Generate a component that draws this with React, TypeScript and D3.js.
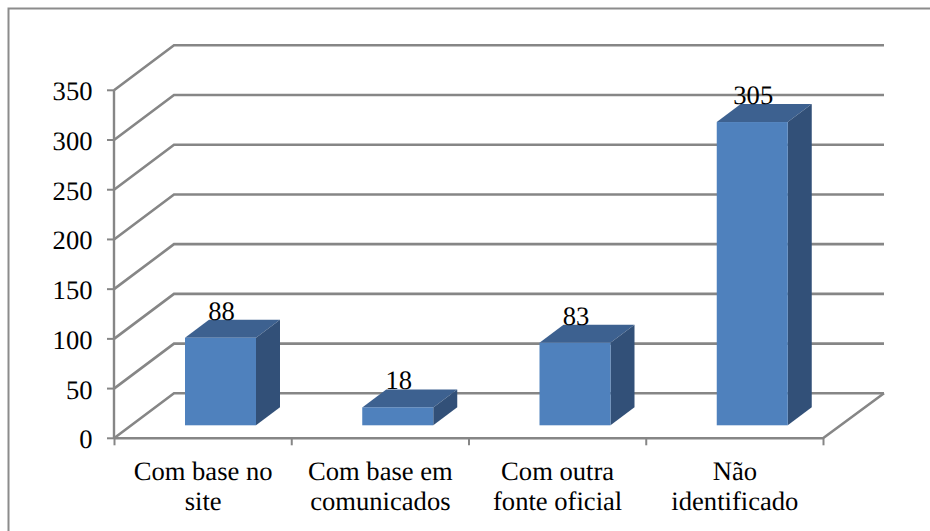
import React from 'react';
import * as d3 from 'd3';

const categories = [
  ['Com base no', 'site'],
  ['Com base em', 'comunicados'],
  ['Com outra', 'fonte oficial'],
  ['Não', 'identificado'],
];
const values = [88, 18, 83, 305];
const yTicks = [0, 50, 100, 150, 200, 250, 300, 350];

const DEPTH_X = 60;
const DEPTH_Y = 45;
const BAR_DX = 24;
const BAR_DY = 18;
const GRID = '#868686';
const FONT = '"Liberation Serif", "Times New Roman", serif';
const FONT_SIZE = 26.6;

const x = d3.scaleBand<number>().domain([0, 1, 2, 3]).range([114, 823]);
const y = d3.scaleLinear().domain([0, 350]).range([438.3, 90.3]);

const App: React.FC = () => {
  const barBase = y(0) - 13;
  const barW = 71;
  const h0 = y(0);
  return (
    <svg
      width={930}
      height={531}
      textRendering="geometricPrecision"
      style={{ position: 'absolute', left: 0, top: 0 }}
    >
      <rect width={930} height={531} fill="#fff" />
      <path d="M8.5,531V8.5H930" fill="none" stroke="#8c8c8c" strokeWidth={2} />
      {/* gridlines: side wall and back wall */}
      {yTicks.map((t) => {
        const line = d3.line<[number, number]>()([
          [x.range()[0], y(t)],
          [x.range()[0] + DEPTH_X, y(t) - DEPTH_Y],
          [x.range()[1] + DEPTH_X + 1, y(t) - DEPTH_Y],
        ]);
        return <path key={t} d={line!} fill="none" stroke={GRID} strokeWidth={2.6} />;
      })}
      {/* floor */}
      <path
        d={d3.line()([
          [114, h0],
          [823, h0],
          [884, h0 - DEPTH_Y],
        ])!}
        fill="none"
        stroke={GRID}
        strokeWidth={2.6}
      />
      {/* y axis */}
      <line x1={114} x2={114} y1={y(350)} y2={h0} stroke={GRID} strokeWidth={2.4} />
      {yTicks.map((t) => (
        <g key={t}>
          <line x1={107} x2={114} y1={y(t)} y2={y(t)} stroke={GRID} strokeWidth={2} />
          <text x={92.5} y={y(t) + 10} textAnchor="end" fontFamily={FONT} fontSize={FONT_SIZE} fill="#000">
            {t}
          </text>
        </g>
      ))}
      {/* x ticks */}
      {[0, 1, 2, 3, 4].map((i) => {
        const px = 114.5 + x.bandwidth() * i;
        return <line key={i} x1={px} x2={px} y1={h0} y2={h0 + 7} stroke={GRID} strokeWidth={2} />;
      })}
      {/* bars */}
      {values.map((v, i) => {
        const left = x(i)! + 71;
        const right = left + barW;
        const top = barBase - (h0 - y(v));
        return (
          <g key={i}>
            <path
              d={`M${left},${top}L${left + BAR_DX},${top - BAR_DY}H${right + BAR_DX}L${right},${top}Z`}
              fill="#3d6190"
            />
            <path
              d={`M${right},${top}L${right + BAR_DX},${top - BAR_DY}V${barBase - BAR_DY}L${right},${barBase}Z`}
              fill="#325078"
            />
            <rect x={left} y={top} width={barW} height={barBase - top} fill="#4f81bd" />
            <text
              x={left + barW / 2 + 1}
              y={top - 18}
              textAnchor="middle"
              fontFamily={FONT}
              fontSize={FONT_SIZE}
              fill="#000"
            >
              {v}
            </text>
          </g>
        );
      })}
      {/* category labels */}
      {categories.map((lines, i) =>
        lines.map((s, j) => (
          <text
            key={s}
            x={x(i)! + x.bandwidth() / 2 + 0.5}
            y={480 + j * 30}
            textAnchor="middle"
            fontFamily={FONT}
            fontSize={FONT_SIZE}
            fill="#000"
          >
            {s}
          </text>
        )),
      )}
    </svg>
  );
};

export default App;
